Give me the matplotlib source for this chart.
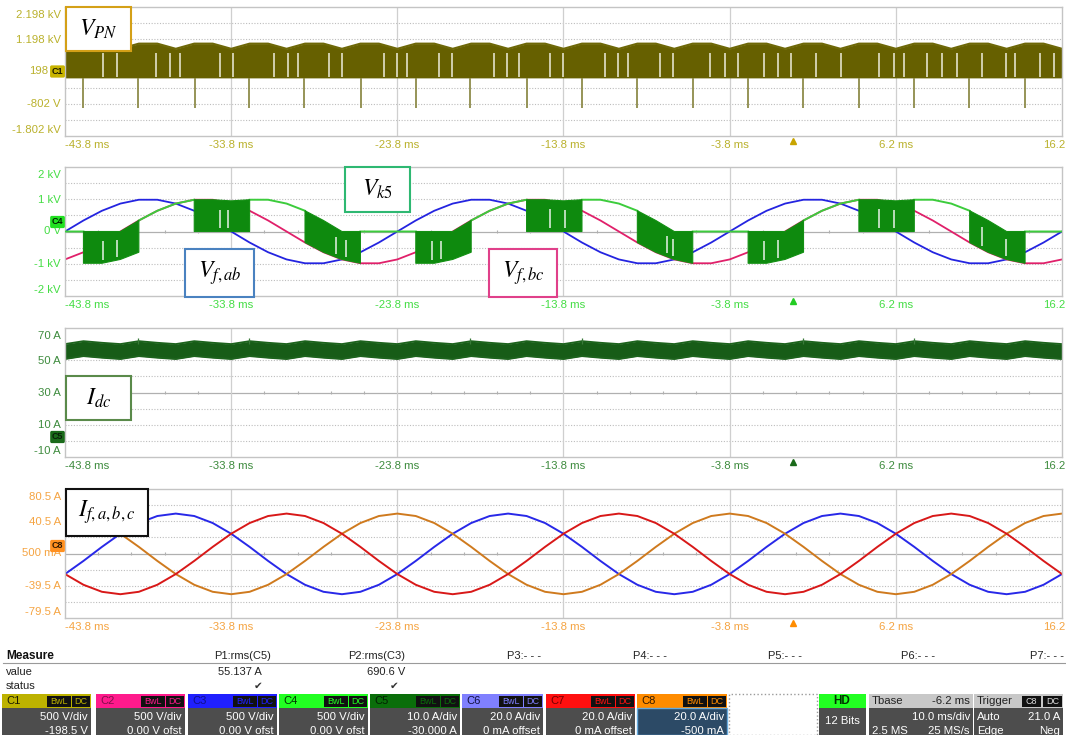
import numpy as np
import matplotlib
matplotlib.use("Agg")
import matplotlib.pyplot as plt
from matplotlib.patches import Rectangle

plt.rcParams["font.family"] = ["Liberation Sans", "DejaVu Sans"]
plt.rcParams["mathtext.fontset"] = "stix"

W, H = 1066, 735
nan = np.nan

# sample grid: 55 points, 20 electrical degrees (1.11 ms) apart over the 60 ms record
t_ms = np.linspace(-43.8, 16.2, 55)
major_t = [-43.8, -33.8, -23.8, -13.8, -3.8, 6.2, 16.2]
major_lbl = ["-43.8 ms", "-33.8 ms", "-23.8 ms", "-13.8 ms", "-3.8 ms", "6.2 ms", "16.2"]

# ---- C1: V_PN (V) -- chopped band from 0 V up to this envelope
vpn_top = [900, 1060, 1060, 900, 1060, 1060, 900, 1060, 1060, 900, 1060, 1060, 900, 1060, 1060, 900, 1060, 1060,
           900, 1060, 1060, 900, 1060, 1060, 900, 1060, 1060, 900, 1060, 1060, 900, 1060, 1060, 900, 1060, 1060,
           900, 1060, 1060, 900, 1060, 1060, 900, 1060, 1060, 900, 1060, 1060, 900, 1060, 1060, 900, 1060, 1060,
           900]
vpn_spike_t = [-42.7, -39.4, -36.0, -32.7, -29.4, -26.0, -22.7, -19.4, -16.0,
               -12.7, -9.4, -6.0, -2.7, 0.6, 4.0, 7.3, 10.6, 14.0]
vpn_spike_v = -940
vpn_gap_t = [-41.5, -40.7, -38.3, -37.5, -36.9, -34.5, -33.7, -31.2, -30.4, -29.8, -27.9, -27.1,
             -24.6, -23.8, -23.2, -21.3, -20.5, -18.0, -17.2, -16.5, -14.6, -13.8, -11.3, -10.5,
             -9.9, -8.0, -7.2, -5.0, -4.1, -3.3, -1.75, -0.9, -0.1, 1.4, 2.9, 5.2, 6.1, 6.7,
             8.1, 9.0, 9.9, 11.4, 12.8, 13.4, 14.9, 15.7]

# ---- C3 / C2 / C4: line voltages and switch voltage Vk5 (V)
v_fab = [0, 342, 643, 866, 985, 985, 866, 643, 342, 0, -342, -643, -866, -985, -985, -866, -643, -342,
         0, 342, 643, 866, 985, 985, 866, 643, 342, 0, -342, -643, -866, -985, -985, -866, -643, -342,
         0, 342, 643, 866, 985, 985, 866, 643, 342, 0, -342, -643, -866, -985, -985, -866, -643, -342,
         0]
v_fbc = [-866, -643, -342, 0, 342, 643, 866, 985, 985, 866, 643, 342, 0, -342, -643, -866, -985, -985,
         -866, -643, -342, 0, 342, 643, 866, 985, 985, 866, 643, 342, 0, -342, -643, -866, -985, -985,
         -866, -643, -342, 0, 342, 643, 866, 985, 985, 866, 643, 342, 0, -342, -643, -866, -985, -985,
         -866]
vk5_line = [0, 0, nan, nan, 342, 643, 866, 985, nan, nan, 985, 985, 866, 643, nan, nan, 0, 0,
            0, 0, nan, nan, 342, 643, 866, 985, nan, nan, 985, 985, 866, 643, nan, nan, 0, 0,
            0, 0, nan, nan, 342, 643, 866, 985, nan, nan, 985, 985, 866, 643, nan, nan, 0, 0,
            0]
vk5_top = [nan, 0, 0, 0, 342, nan, nan, 985, 985, 950, 985, nan, nan, 643, 342, 0, 0, nan,
           nan, 0, 0, 0, 342, nan, nan, 985, 985, 950, 985, nan, nan, 643, 342, 0, 0, nan,
           nan, 0, 0, 0, 342, nan, nan, 985, 985, 950, 985, nan, nan, 643, 342, 0, 0, nan,
           nan]
vk5_bot = [nan, -985, -985, -866, -643, nan, nan, 0, 0, 0, 0, nan, nan, -342, -643, -866, -985, nan,
           nan, -985, -985, -866, -643, nan, nan, 0, 0, 0, 0, nan, nan, -342, -643, -866, -985, nan,
           nan, -985, -985, -866, -643, nan, nan, 0, 0, 0, 0, nan, nan, -342, -643, -866, -985, nan,
           nan]
vk5_gap_t = [-41.5, -40.7, -34.5, -34.0, -27.5, -26.9, -21.7, -21.2, -14.6, -13.7,
             -7.6, -7.2, -1.75, -0.9, 5.2, 6.1, 11.4, 12.8]

# ---- C5: I_dc (A) band
idc_top = [60.0, 61.8, 60.8, 60.0, 61.8, 60.8, 60.0, 61.8, 60.8, 60.0, 61.8, 60.8, 60.0, 61.8, 60.8, 60.0, 61.8, 60.8,
           60.0, 61.8, 60.8, 60.0, 61.8, 60.8, 60.0, 61.8, 60.8, 60.0, 61.8, 60.8, 60.0, 61.8, 60.8, 60.0, 61.8, 60.8,
           60.0, 61.8, 60.8, 60.0, 61.8, 60.8, 60.0, 61.8, 60.8, 60.0, 61.8, 60.8, 60.0, 61.8, 60.8, 60.0, 61.8, 60.8,
           60.0]
idc_bot = [50.8, 52.6, 51.6, 50.8, 52.6, 51.6, 50.8, 52.6, 51.6, 50.8, 52.6, 51.6, 50.8, 52.6, 51.6, 50.8, 52.6, 51.6,
           50.8, 52.6, 51.6, 50.8, 52.6, 51.6, 50.8, 52.6, 51.6, 50.8, 52.6, 51.6, 50.8, 52.6, 51.6, 50.8, 52.6, 51.6,
           50.8, 52.6, 51.6, 50.8, 52.6, 51.6, 50.8, 52.6, 51.6, 50.8, 52.6, 51.6, 50.8, 52.6, 51.6, 50.8, 52.6, 51.6,
           50.8]
idc_spike_t = [-39.4, -32.7, -19.4, -12.7, 0.6, 7.3]
idc_spike_v = 64.0

# ---- C6 / C7 / C8: filter currents (A)
i_fa = [-25, -8.7, 8.7, 25, 38.3, 47.0, 50, 47.0, 38.3, 25, 8.7, -8.7, -25, -38.3, -47.0, -50, -47.0, -38.3,
        -25, -8.7, 8.7, 25, 38.3, 47.0, 50, 47.0, 38.3, 25, 8.7, -8.7, -25, -38.3, -47.0, -50, -47.0, -38.3,
        -25, -8.7, 8.7, 25, 38.3, 47.0, 50, 47.0, 38.3, 25, 8.7, -8.7, -25, -38.3, -47.0, -50, -47.0, -38.3,
        -25]
i_fb = [-25, -38.3, -47.0, -50, -47.0, -38.3, -25, -8.7, 8.7, 25, 38.3, 47.0, 50, 47.0, 38.3, 25, 8.7, -8.7,
        -25, -38.3, -47.0, -50, -47.0, -38.3, -25, -8.7, 8.7, 25, 38.3, 47.0, 50, 47.0, 38.3, 25, 8.7, -8.7,
        -25, -38.3, -47.0, -50, -47.0, -38.3, -25, -8.7, 8.7, 25, 38.3, 47.0, 50, 47.0, 38.3, 25, 8.7, -8.7,
        -25]
i_fc = [50, 47.0, 38.3, 25, 8.7, -8.7, -25, -38.3, -47.0, -50, -47.0, -38.3, -25, -8.7, 8.7, 25, 38.3, 47.0,
        50, 47.0, 38.3, 25, 8.7, -8.7, -25, -38.3, -47.0, -50, -47.0, -38.3, -25, -8.7, 8.7, 25, 38.3, 47.0,
        50, 47.0, 38.3, 25, 8.7, -8.7, -25, -38.3, -47.0, -50, -47.0, -38.3, -25, -8.7, 8.7, 25, 38.3, 47.0,
        50]

# y-axis labels per panel (top -> bottom)
ylbl_vpn = ["2.198 kV", "1.198 kV", "198", "-802 V", "-1.802 kV"]
ylbl_v = ["2 kV", "1 kV", "0 V", "-1 kV", "-2 kV"]
ylbl_idc = ["70 A", "50 A", "30 A", "10 A", "-10 A"]
ylbl_if = ["80.5 A", "40.5 A", "500 mA", "-39.5 A", "-79.5 A"]

fig = plt.figure(figsize=(W / 100, H / 100), dpi=100)
fig.patch.set_facecolor("white")


def fx(x):
    return x / W


def fy(y):
    return 1 - y / H


def box(x0, y0, x1, y1, **kw):
    fig.add_artist(Rectangle((fx(x0), fy(y1)), (x1 - x0) / W, (y1 - y0) / H,
                             transform=fig.transFigure, **kw))


def ftext(x, y, s, **kw):
    fig.text(fx(x), fy(y), s, **kw)


def panel(top_px, ylim, ylabels, color, tri_color, mid_label_x=-0.004):
    ax = fig.add_axes([fx(65), fy(top_px + 129), 997 / W, 129 / H])
    ax.set_xlim(-43.8, 16.2)
    ax.set_ylim(*ylim)
    ax.set_xticks([])
    ax.set_yticks([])
    ax.set_facecolor("white")
    for s in ax.spines.values():
        s.set_color("#c4c4c4")
        s.set_linewidth(1.0)
    lo, hi = ylim
    step = (hi - lo) / 8
    for i in range(1, 8):
        y = lo + i * step
        if i == 4:
            ax.axhline(y, color="#b0b0b0", lw=0.9, zorder=0)
        else:
            ax.axhline(y, color="#bdbdbd", lw=0.8, ls=(0, (1, 1.5)), zorder=0)
    for x in major_t[1:-1]:
        ax.axvline(x, color="#cfcfcf", lw=0.9, zorder=0)
    c = lo + 4 * step
    minor = [x for x in np.arange(-41.8, 16.0, 2.0) if min(abs(x - m) for m in major_t) > 0.5]
    ax.vlines(minor, c - step * 0.12, c + step * 0.12, color="#b0b0b0", lw=0.8, zorder=0)
    for x, lab in zip(major_t, major_lbl):
        if x == major_t[0]:
            ha = "left"
        elif x == major_t[-1]:
            ha = "right"
            x = x + 0.2
        else:
            ha = "center"
        ax.text(x, -0.072, lab, transform=ax.get_xaxis_transform(), ha=ha, va="center",
                fontsize=8.2, color=color, clip_on=False)
    for i, (ya, lab) in enumerate(zip([0.94, 0.745, 0.5, 0.245, 0.045], ylabels)):
        xa = mid_label_x if i == 2 else -0.004
        ax.text(xa, ya, lab, transform=ax.transAxes, ha="right", va="center",
                fontsize=8.2, color=color, clip_on=False)
    ax.plot([0], [-0.035], marker="^", ms=5, color=tri_color,
            transform=ax.get_xaxis_transform(), clip_on=False)
    return ax


# ---------------- panel 1: V_PN
ax1 = panel(7, (-1802, 2198), ylbl_vpn, "#bab12c", "#c8a400", mid_label_x=-0.0165)
ax1.fill_between(t_ms, 0, vpn_top, color="#666000", lw=0, zorder=2)
ax1.plot(t_ms, vpn_top, color="#6e6808", lw=1.6, zorder=2)
ax1.vlines(vpn_spike_t, vpn_spike_v, 0, color="#8e8b4a", lw=1.3, zorder=2)
ax1.vlines(vpn_gap_t, 30, 760, color="#eeeedd", lw=1.1, zorder=3)

# ---------------- panel 2: Vf,ab  Vf,bc  Vk5
ax2 = panel(167, (-2000, 2000), ylbl_v, "#44dd44", "#22cc22")
ax2.plot(t_ms, v_fab, color="#2424e0", lw=1.3, zorder=2)
ax2.plot(t_ms, v_fbc, color="#e0206a", lw=1.3, zorder=2)
ax2.plot(t_ms, vk5_line, color="#3ccc3c", lw=1.4, zorder=3)
top_m = np.ma.masked_invalid(vk5_top)
bot_m = np.ma.masked_invalid(vk5_bot)
ax2.fill_between(t_ms, bot_m, top_m, color="#0e8a0e", lw=0.8, edgecolor="#129012", zorder=4)
top_a, bot_a = np.array(vk5_top), np.array(vk5_bot)
ok = ~np.isnan(top_a)
g_top = np.interp(vk5_gap_t, t_ms[ok], top_a[ok])
g_bot = np.interp(vk5_gap_t, t_ms[ok], bot_a[ok])
ax2.vlines(vk5_gap_t, g_bot + 0.1 * (g_top - g_bot), g_bot + 0.7 * (g_top - g_bot),
           color="#e8f2e8", lw=1.1, zorder=5)

# ---------------- panel 3: I_dc
ax3 = panel(328, (-10, 70), ylbl_idc, "#3d8b3d", "#1a6a1a")
ax3.fill_between(t_ms, idc_bot, idc_top, color="#175c17", lw=0, zorder=2)
ax3.plot(t_ms, idc_top, color="#1d631d", lw=1.4, zorder=2)
ax3.plot(t_ms, idc_bot, color="#1d631d", lw=1.4, zorder=2)
ax3.vlines(idc_spike_t, 60, idc_spike_v, color="#3a7a3a", lw=0.9, zorder=2)

# ---------------- panel 4: I_f,a,b,c
ax4 = panel(489, (-79.5, 80.5), ylbl_if, "#f5a442", "#ff8c00")
ax4.plot(t_ms, i_fa, color="#2828e8", lw=1.4, zorder=2)
ax4.plot(t_ms, i_fc, color="#cf7a1e", lw=1.4, zorder=2)
ax4.plot(t_ms, i_fb, color="#d81818", lw=1.4, zorder=2)

# channel markers on the left edge
for (y, lab, bg, fg) in [(71.5, "C1", "#c8b400", "#1a1a00"), (222, "C4", "#22e022", "#002200"),
                         (437, "C5", "#1a6a1a", "#0a200a"), (546, "C8", "#ff9020", "#331a00")]:
    ftext(57.5, y, lab, ha="center", va="center", fontsize=6.5, weight="bold", color=fg,
          bbox=dict(boxstyle="round,pad=0.18", fc=bg, ec="none"))

# ---------------- labels in boxes
for (x0, y0, x1, y1, ec, s) in [(66, 7, 131, 51, "#d4a017", r"$V_{PN}$"),
                                (345, 167, 410, 212, "#2eb872", r"$V_{k5}$"),
                                (185, 249, 254, 297, "#4a82c0", r"$V_{f,ab}$"),
                                (489, 249, 557, 297, "#e0408a", r"$V_{f,bc}$"),
                                (66, 376, 131, 420, "#5a8a4a", r"$I_{dc}$"),
                                (66, 489, 148, 536, "#111111", r"$I_{f,a,b,c}$")]:
    box(x0, y0, x1, y1, facecolor="white", edgecolor=ec, lw=1.5, zorder=10)
    ftext((x0 + x1) / 2, (y0 + y1) / 2, s, ha="center", va="center", fontsize=17,
          color="black", zorder=11)

# ---------------- measure table
ftext(6, 656, "Measure", fontsize=8.5, weight="bold", va="center", color="#111111")
fig.add_artist(plt.Line2D([fx(3), 1], [fy(663), fy(663)], transform=fig.transFigure,
                          color="#9a9a9a", lw=0.8))
ftext(6, 672, "value", fontsize=8, va="center", color="#222222")
ftext(6, 686, "status", fontsize=8, va="center", color="#222222")
p_heads = ["P1:rms(C5)", "P2:rms(C3)", "P3:- - -", "P4:- - -", "P5:- - -", "P6:- - -", "P7:- - -"]
p_right = [271, 405, 541, 667, 802, 935, 1064]
for s, xr in zip(p_heads, p_right):
    ftext(xr, 656, s, fontsize=8, ha="right", va="center", color="#222222")
ftext(262, 672, "55.137 A", fontsize=8, ha="right", va="center", color="#222222")
ftext(405, 672, "690.6 V", fontsize=8, ha="right", va="center", color="#222222")
for xr in [263, 399]:
    ftext(xr, 686, "\u2714", fontsize=7.5, ha="right", va="center", color="#333333",
          family=["DejaVu Sans"])

# ---------------- channel boxes
chan = [("C1", 2, 91, "#bdb200", "#1a1a00", "500 V/div", "-198.5 V"),
        ("C2", 96, 185, "#ff1a8c", "#80104a", "500 V/div", "0.00 V ofst"),
        ("C3", 188, 277, "#2020ff", "#10108a", "500 V/div", "0.00 V ofst"),
        ("C4", 279, 368, "#22ff22", "#003300", "500 V/div", "0.00 V ofst"),
        ("C5", 370, 460, "#0a6e0a", "#022002", "10.0 A/div", "-30.000 A"),
        ("C6", 462, 543, "#8080ff", "#101040", "20.0 A/div", "0 mA offset"),
        ("C7", 546, 635, "#ff1010", "#700000", "20.0 A/div", "0 mA offset"),
        ("C8", 637, 727, "#ff8c00", "#331a00", "20.0 A/div", "-500 mA")]
for name, x0, x1, hc, tc, l1, l2 in chan:
    box(x0, 694, x1, 708, facecolor=hc, edgecolor="none")
    body = "#2c4a66" if name == "C8" else "#4d4d4d"
    box(x0, 708, x1, 735, facecolor=body, edgecolor="#66aadd" if name == "C8" else "none", lw=1)
    ftext(x0 + 4, 701, name, fontsize=8, va="center", color=tc)
    box(x1 - 44, 695.5, x1 - 20, 706.5, facecolor="#111111", edgecolor="none")
    box(x1 - 19, 695.5, x1 - 1, 706.5, facecolor="#111111", edgecolor="none")
    ftext(x1 - 32, 701, "BwL", fontsize=6.5, ha="center", va="center", color=hc)
    ftext(x1 - 10, 701, "DC", fontsize=6.5, ha="center", va="center", color=hc)
    ftext(x1 - 3, 717, l1, fontsize=8.2, ha="right", va="center", color="white")
    ftext(x1 - 3, 731, l2, fontsize=8.2, ha="right", va="center", color="white")

box(729, 694, 817, 735, facecolor="white", edgecolor="#9a9a9a", lw=1, ls=":")
box(819, 694, 866, 708, facecolor="#22ff22", edgecolor="none")
box(819, 708, 866, 735, facecolor="#4d4d4d", edgecolor="none")
ftext(842, 701, "HD", fontsize=8.5, ha="center", va="center", color="#003300", weight="bold")
ftext(842, 721, "12 Bits", fontsize=8.2, ha="center", va="center", color="white")

box(869, 694, 973, 708, facecolor="#c8c8c8", edgecolor="none")
box(869, 708, 973, 735, facecolor="#4d4d4d", edgecolor="none")
ftext(872, 701, "Tbase", fontsize=8.2, va="center", color="#222222")
ftext(970, 701, "-6.2 ms", fontsize=8.2, ha="right", va="center", color="#222222")
ftext(970, 717, "10.0 ms/div", fontsize=8.2, ha="right", va="center", color="white")
ftext(872, 731, "2.5 MS", fontsize=8.2, va="center", color="white")
ftext(970, 731, "25 MS/s", fontsize=8.2, ha="right", va="center", color="white")

box(974, 694, 1063, 708, facecolor="#c8c8c8", edgecolor="none")
box(974, 708, 1063, 735, facecolor="#4d4d4d", edgecolor="none")
ftext(977, 701, "Trigger", fontsize=8.2, va="center", color="#222222")
box(1022, 695.5, 1041, 706.5, facecolor="#111111", edgecolor="none")
box(1043, 695.5, 1062, 706.5, facecolor="#111111", edgecolor="none")
ftext(1031.5, 701, "C8", fontsize=6.5, ha="center", va="center", color="#dddddd")
ftext(1052.5, 701, "DC", fontsize=6.5, ha="center", va="center", color="#dddddd")
ftext(977, 717, "Auto", fontsize=8.2, va="center", color="white")
ftext(1060, 717, "21.0 A", fontsize=8.2, ha="right", va="center", color="white")
ftext(977, 731, "Edge", fontsize=8.2, va="center", color="white")
ftext(1060, 731, "Neg", fontsize=8.2, ha="right", va="center", color="white")

fig.savefig("out.png", dpi=100)
